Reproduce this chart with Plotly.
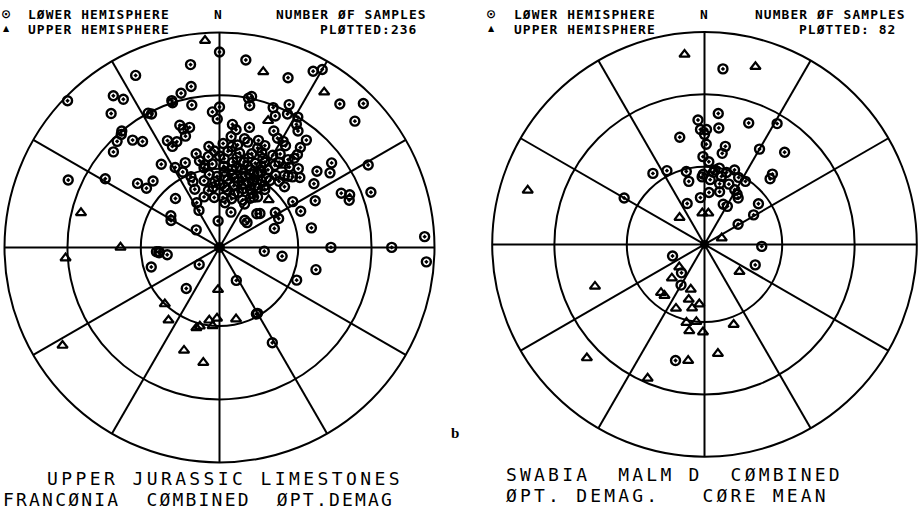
import numpy as np
import plotly.graph_objects as go

# Palaeomagnetic directions as (declination, inclination) in degrees.
# Negative inclination = upper hemisphere (plotted as triangles).
FRANCONIA = [
    (351, 15), (334, 12), (350, 25), (346, 27), (314, 2), (325, 15), (327, 19),
    (342, 29), (342, 30), (349, 33), (321, 21), (332, 30), (333, 31), (357, 37),
    (359, 40), (342, 40), (343, 42), (346, 42), (343, 45), (320, 30), (319, 31),
    (316, 32), (321, 36), (324, 39), (312, 34), (334, 44), (335, 47), (338, 46),
    (354, 51), (357, 53), (346, 53), (347, 56), (349, 59), (325, 51), (338, 55),
    (331, 55), (334, 58), (294, 24), (301, 38), (308, 50), (309, 54), (315, 54),
    (338, 61), (338, 63), (337, 66), (349, 68), (343, 70), (354, 71), (358, 63),
    (356, 65), (318, 65), (333, 71), (331, 74), (299, 69), (303, 68), (307, 79),
    (357, 80), (355, 58), (354, 67),
    (0, 10), (8, 13), (22, 16), (28, 8), (30, 5), (40, 14), (45, 6), (47, 15),
    (12, 29), (11, 30), (0, 35), (12, 33), (21, 31), (23, 34), (26, 27), (27, 31),
    (31, 30), (32, 33), (34, 35), (6, 42), (8, 44), (14, 42), (25, 40), (28, 42),
    (39, 36), (39, 40), (40, 43), (31, 42), (33, 43), (52, 42), (53, 35), (56, 38),
    (56, 46), (66, 38), (68, 35), (70, 36), (61, 22), (70, 26), (87, 5), (64, 49),
    (66, 56), (78, 54), (58, 57), (18, 76), (43, 76), (48, 71), (50, 70), (58, 65),
    (64, 65), (71, 68), (48, 76), (95, 73), (90, 47), (90, 21),
    (2, 50), (7, 51), (10, 50), (15, 48), (20, 46), (24, 47), (12, 53), (19, 52),
    (24, 50), (3, 56), (9, 57), (16, 56), (23, 55), (28, 53), (30, 49), (33, 47),
    (3, 59), (9, 60), (16, 59), (22, 58), (27, 55), (32, 55), (38, 55), (42, 53),
    (46, 51), (49, 49), (4, 63), (12, 63), (20, 61), (27, 61), (32, 60), (37, 58),
    (5, 67), (13, 66), (22, 66), (31, 66), (14, 71), (26, 70), (32, 68), (37, 66),
    (4, 71), (38, 62), (38, 47), (40, 45), (45, 47), (12, 59), (19, 57), (27, 58),
    (16, 64), (24, 63), (7, 64), (34, 58), (34, 52), (42, 56), (47, 56), (33, 63),
    (19, 68), (0, 55), (0, 66), (7, 73), (30, 71),
    (5, 53), (11, 55), (18, 54), (26, 52), (29, 57), (35, 50), (4, 61), (10, 62),
    (18, 62), (25, 59), (30, 63), (36, 61), (8, 68), (15, 69), (21, 64), (28, 65),
    (34, 67), (41, 49), (44, 52), (21, 49), (13, 47), (6, 47), (350, 58), (352, 62),
    (353, 55), (347, 64),
    (98, 66), (103, 52), (94, 4), (153, 76), (113, 58), (150, 61), (151, 61),
    (151, 48), (266, 66), (265, 67), (266, 67), (262, 70), (254, 63), (230, 80),
    (219, 70),
    (356, -4), (14, -17), (34, -14), (21, -37), (38, -50), (46, -64), (284, -34),
    (270, -52), (266, -29), (224, -60), (215, -56), (182, -74), (188, -62),
    (182, -63), (185, -60), (194, -59), (196, -58), (199, -48), (188, -45),
    (238, -15), (167, -62),
]

SWABIA = [
    (6, 18), (6, 38), (357, 41), (20, 39), (31, 34), (7, 44), (358, 45), (1, 45),
    (0, 47), (347, 47), (1, 51), (12, 51), (11, 54), (30, 47), (41, 42), (359, 56),
    (324, 56), (333, 58), (346, 61), (358, 64), (359, 63), (8, 61), (11, 60),
    (7, 62), (17, 61), (22, 59), (27, 61), (33, 61), (5, 65), (44, 52), (45, 54),
    (346, 65), (14, 66), (22, 65), (16, 69), (5, 70), (29, 66), (36, 68), (33, 67),
    (355, 72), (337, 73), (25, 73), (31, 73), (300, 54), (53, 64), (59, 68),
    (59, 75), (92, 68), (250, 77), (112, 69), (219, 76), (210, 72), (194, 43),
    (3, 58), (14, 63),
    (354, -11), (16, -14), (356, -78), (7, -78), (317, -76), (287, -14), (70, -83),
    (128, -73), (228, -77), (224, -72), (222, -65), (218, -65), (197, -72),
    (196, -68), (185, -67), (191, -65), (204, -63), (193, -59), (186, -60),
    (190, -56), (181, -56), (160, -57), (249, -44), (173, -47), (188, -44),
    (226, -24), (203, -32),
]

GRID_INCLINATIONS = [60, 30]

LEFT_TITLE = ["UPPER JURASSIC LIMESTONES", "FRANCØNIA  CØMBINED  ØPT.DEMAG"]
RIGHT_TITLE = ["SWABIA  MALM D  CØMBINED", "ØPT. DEMAG.   CØRE MEAN"]

W, H = 923, 513
MONO = "DejaVu Sans Mono, Liberation Mono, monospace"


def eq_area_r(inc):
    """Lambert equal-area radius (0 at the pole, 1 at the horizontal)."""
    inc = np.abs(np.asarray(inc, dtype=float))
    return np.sqrt(2) * np.sin(np.radians(90 - inc) / 2)


def split(data):
    dec = np.array([d for d, _ in data], dtype=float)
    inc = np.array([i for _, i in data], dtype=float)
    low = inc >= 0
    return (dec[low], inc[low]), (dec[~low], inc[~low])


fig = go.Figure()

for data, sub, pole in [(FRANCONIA, "polar", 11), (SWABIA, "polar2", 9)]:
    (ld, li), (ud, ui) = split(data)
    fig.add_trace(go.Scatterpolar(
        r=eq_area_r(li), theta=ld, mode="markers", subplot=sub,
        marker=dict(symbol="circle-open-dot", size=9, color="black",
                    line=dict(width=2.4, color="black")),
        hoverinfo="skip"))
    fig.add_trace(go.Scatterpolar(
        r=eq_area_r(ui), theta=ud, mode="markers", subplot=sub,
        marker=dict(symbol="triangle-up-open", size=9, color="black",
                    line=dict(width=2.2, color="black")),
        hoverinfo="skip"))
    # pole of the net
    fig.add_trace(go.Scatterpolar(
        r=[0], theta=[0], mode="markers", subplot=sub,
        marker=dict(symbol="circle", size=pole, color="black"), hoverinfo="skip"))


def polar_cfg(cx, cy, R):
    return dict(
        domain=dict(x=[(cx - R) / W, (cx + R) / W],
                    y=[(H - cy - R) / H, (H - cy + R) / H]),
        bgcolor="white",
        radialaxis=dict(range=[0, 1], tickvals=list(eq_area_r(GRID_INCLINATIONS)),
                        showticklabels=False, ticks="", showline=False,
                        showgrid=True, gridcolor="black", gridwidth=2),
        angularaxis=dict(rotation=90, direction="clockwise", tickmode="linear",
                         tick0=0, dtick=30, showticklabels=False, ticks="",
                         showgrid=True, gridcolor="black", gridwidth=2,
                         showline=True, linecolor="black", linewidth=2),
    )


fig.update_layout(
    width=W, height=H, margin=dict(l=0, r=0, t=0, b=0),
    paper_bgcolor="white", plot_bgcolor="white", showlegend=False,
    polar=polar_cfg(219.5, 247.4, 215),
    polar2=polar_cfg(704.5, 244.4, 212.3),
)


def ann(px, py, text, size, xanchor="left", bold=False, spacing=0.0,
        family=MONO):
    if spacing:
        text = f'<span style="letter-spacing:{spacing}px">{text}</span>'
    if bold:
        text = f"<b>{text}</b>"
    fig.add_annotation(
        x=px / W, y=1 - py / H, xref="paper", yref="paper", text=text,
        showarrow=False, xanchor=xanchor, yanchor="middle",
        font=dict(family=family, size=size, color="black"), borderpad=0)


# header: plotter-style legend, north mark and sample count
HEAD, HEAD_SP = 12.9, 1.1
Y1, Y2 = 14.3, 29.3
for x0, xn, xr, data in [(0, 218, 275, FRANCONIA), (485, 703.5, 754, SWABIA)]:
    count = f"{len(data):3d}" if len(data) < 100 else str(len(data))
    ann(x0 + 6.3, Y1, "⊙", 12, "center", bold=True, family="DejaVu Sans")
    ann(x0 + 6.3, Y2 - 1, "▲", 8, "center", family="DejaVu Sans")
    ann(x0 + 27 + (1 if x0 else 0), Y1, "LØWER HEMISPHERE", HEAD, bold=True,
        spacing=HEAD_SP)
    ann(x0 + 27 + (1 if x0 else 0), Y2, "UPPER HEMISPHERE", HEAD, bold=True,
        spacing=HEAD_SP)
    ann(xn, Y1, "N", HEAD, "center", bold=True)
    ann(xr, Y1, "NUMBER ØF SAMPLES", HEAD, bold=True, spacing=HEAD_SP)
    ann(xr + 44, Y2, "PLØTTED:" + count, HEAD, bold=True, spacing=HEAD_SP)

# panel captions
ann(46, 478, LEFT_TITLE[0], 18, spacing=3.4)
ann(2, 499, LEFT_TITLE[1], 18, spacing=2.2)
ann(505, 474, RIGHT_TITLE[0], 18, spacing=3.2)
ann(505, 495, RIGHT_TITLE[1], 18, spacing=3.2)

ann(455, 433, "b", 15, "center", bold=True, family="Liberation Serif")

fig.write_html("out.html")
